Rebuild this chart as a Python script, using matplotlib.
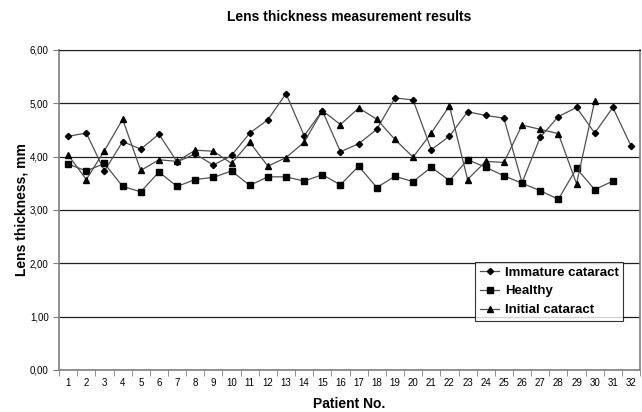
import matplotlib.pyplot as plt
from matplotlib.ticker import FixedLocator, FuncFormatter

plt.rcParams['font.family'] = ['Liberation Sans', 'DejaVu Sans']

patients = list(range(1, 33))

immature = [4.38, 4.44, 3.73, 4.28, 4.14, 4.42, 3.90, 4.05, 3.84, 4.02,
            4.44, 4.69, 5.18, 4.39, 4.86, 4.09, 4.24, 4.51, 5.10, 5.06,
            4.13, 4.38, 4.84, 4.77, 4.72, 3.51, 4.36, 4.75, 4.92, 4.44,
            4.92, 4.20]
healthy = [3.86, 3.73, 3.87, 3.44, 3.34, 3.71, 3.44, 3.57, 3.61, 3.73,
           3.46, 3.62, 3.62, 3.54, 3.66, 3.47, 3.82, 3.42, 3.63, 3.53,
           3.80, 3.55, 3.94, 3.80, 3.64, 3.50, 3.36, 3.20, 3.78, 3.38,
           3.54]
initial = [4.03, 3.57, 4.11, 4.70, 3.74, 3.94, 3.91, 4.12, 4.10, 3.87,
           4.27, 3.82, 3.98, 4.27, 4.86, 4.60, 4.91, 4.70, 4.32, 3.99,
           4.44, 4.95, 3.57, 3.91, 3.89, 4.59, 4.51, 4.43, 3.49, 5.04]

fig = plt.figure(figsize=(6.42, 4.12), dpi=100)
ax = fig.add_axes([0.092, 0.102, 0.905, 0.777])

line_kw = dict(color='#505050', lw=0.9, markerfacecolor='black',
               markeredgecolor='black')
ax.plot(patients[:len(immature)], immature, marker='D', ms=3.2,
        label='Immature cataract', **line_kw)
ax.plot(patients[:len(healthy)], healthy, marker='s', ms=4,
        label='Healthy', **line_kw)
ax.plot(patients[:len(initial)], initial, marker='^', ms=4.2,
        label='Initial cataract', **line_kw)

ax.set_xlim(0.5, 32.5)
ax.set_ylim(0, 6)
ax.set_yticks([0, 1, 2, 3, 4, 5, 6])
ax.yaxis.set_major_formatter(FuncFormatter(lambda v, p: f'{v:.2f}'.replace('.', ',')))
ax.set_xticks(patients)
ax.xaxis.set_minor_locator(FixedLocator([p + 0.5 for p in range(0, 33)]))
ax.tick_params(axis='x', which='major', length=0, labelsize=7, pad=6)
ax.tick_params(axis='x', which='minor', length=4, color='#808080', direction='out')
ax.tick_params(axis='y', length=4, color='#808080', labelsize=7)

ax.grid(axis='y', color='#202020', lw=0.9)
ax.set_axisbelow(True)
for side in ['left', 'bottom', 'right']:
    ax.spines[side].set_color('#808080')
    ax.spines[side].set_linewidth(1.2)
ax.spines['top'].set_color('#202020')

ax.set_title('Lens thickness measurement results', fontsize=10,
             fontweight='bold', pad=21)
ax.set_xlabel('Patient No.', fontsize=10, fontweight='bold', labelpad=6)
ax.set_ylabel('Lens thickness, mm', fontsize=10, fontweight='bold', labelpad=1)

leg = ax.legend(loc='upper left', bbox_to_anchor=(0.716, 0.338),
                fontsize=9.5, frameon=True, fancybox=False,
                handlelength=1.5, handletextpad=0.4, borderpad=0.35,
                labelspacing=0.5, borderaxespad=0)
leg.get_frame().set_edgecolor('black')
leg.get_frame().set_linewidth(0.8)
for t in leg.get_texts():
    t.set_fontweight('bold')

fig.savefig('out.png', dpi=100)
